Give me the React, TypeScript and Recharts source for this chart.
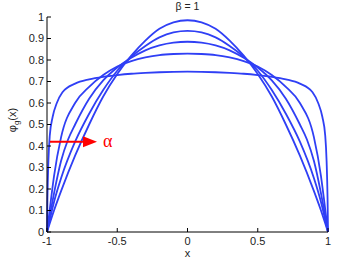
import React from 'react';
import { LineChart, Line, XAxis, YAxis, ReferenceLine, Customized } from 'recharts';

// tick values
const X_TICKS = [-1, -0.5, 0, 0.5, 1];
const Y_TICKS = [0, 0.1, 0.2, 0.3, 0.4, 0.5, 0.6, 0.7, 0.8, 0.9, 1];

// left half of each curve (x from -1 to 0); curves are symmetric about x = 0
const x1 = [-1, -0.95, -0.9, -0.8, -0.7, -0.6, -0.5, -0.4, -0.3, -0.2, -0.1, 0];
const y1 = [0, 0.1, 0.19, 0.355, 0.5, 0.63, 0.735, 0.82, 0.89, 0.945, 0.975, 0.985];

const x2 = [-1, -0.95, -0.9, -0.8, -0.7, -0.6, -0.5, -0.4, -0.3, -0.2, -0.1, 0];
const y2 = [0, 0.14, 0.25, 0.42, 0.55, 0.66, 0.75, 0.815, 0.865, 0.905, 0.928, 0.935];

const x3 = [-1, -0.95, -0.9, -0.85, -0.8, -0.7, -0.6, -0.5, -0.4, -0.3, -0.2, -0.1, 0];
const y3 = [0, 0.18, 0.33, 0.43, 0.5, 0.62, 0.705, 0.765, 0.81, 0.845, 0.868, 0.881, 0.885];

const x4 = [-1, -0.97, -0.95, -0.9, -0.8, -0.7, -0.6, -0.5, -0.4, -0.3, -0.2, -0.1, 0];
const y4 = [0, 0.16, 0.26, 0.44, 0.6, 0.675, 0.73, 0.77, 0.795, 0.812, 0.823, 0.828, 0.83];

const x5 = [-1, -0.997, -0.99, -0.98, -0.96, -0.93, -0.89, -0.8, -0.7, -0.6, -0.5, -0.4, -0.3, -0.2, -0.1, 0];
const y5 = [0, 0.15, 0.33, 0.45, 0.535, 0.6, 0.65, 0.69, 0.71, 0.722, 0.73, 0.736, 0.74, 0.743, 0.745, 0.746];

const mirror = (xs: number[], ys: number[]) => {
  const left = xs.map((x, i) => ({ x, y: ys[i] }));
  const right = xs
    .slice(0, -1)
    .map((x, i) => ({ x: -x, y: ys[i] }))
    .reverse();
  return [...left, ...right];
};

const curves = [mirror(x1, y1), mirror(x2, y2), mirror(x3, y3), mirror(x4, y4), mirror(x5, y5)];

const BLUE = '#2f3ff5';
const FONT = '"Liberation Sans", Arial, sans-serif';
const tickStyle = { fontSize: 11, fill: '#222', fontFamily: FONT };

const Arrow = (p: any) => {
  const { x1: ax, y1: ay, x2: bx } = p;
  return (
    <g>
      <line x1={ax} y1={ay} x2={bx - 12} y2={ay} stroke="#ff0000" strokeWidth={2} />
      <polygon points={`${bx},${ay} ${bx - 14},${ay - 5.5} ${bx - 14},${ay + 5.5}`} fill="#ff0000" />
      <text x={bx + 6} y={ay + 5} fill="#ff0000" fontSize={18} fontFamily='"Liberation Serif", serif'>
        α
      </text>
    </g>
  );
};

const Texts = () => (
  <g fontFamily={FONT} fill="#222">
    <text x={187.5} y={10} textAnchor="middle" fontSize={10.5}>
      β = 1
    </text>
    <text x={187.5} y={257} textAnchor="middle" fontSize={11}>
      x
    </text>
    <text x={16} y={120} textAnchor="middle" fontSize={11} transform="rotate(-90, 16, 120)">
      φ
      <tspan fontSize={8} dy={3}>g</tspan>
      <tspan dy={-3}>(x)</tspan>
    </text>
  </g>
);

export default function App() {
  return (
    <div style={{ position: 'absolute', left: 0, top: 0, background: '#fff' }}>
      <LineChart width={363} height={265} margin={{ top: 17, right: 35, bottom: 0, left: 0 }}>
        <XAxis
          dataKey="x"
          type="number"
          domain={[-1, 1]}
          ticks={X_TICKS}
          height={33}
          tickSize={-4}
          tickMargin={9}
          tick={tickStyle}
          stroke="#000"
          allowDuplicatedCategory={false}
        />
        <XAxis
          xAxisId="top"
          orientation="top"
          type="number"
          domain={[-1, 1]}
          ticks={X_TICKS}
          height={0}
          tickSize={-4}
          tickFormatter={() => ''}
          stroke="#000"
        />
        <YAxis
          type="number"
          domain={[0, 1]}
          ticks={Y_TICKS}
          width={47}
          tickSize={-4}
          tickMargin={7}
          tick={tickStyle}
          stroke="#000"
        />
        <YAxis
          yAxisId="right"
          orientation="right"
          type="number"
          domain={[0, 1]}
          ticks={Y_TICKS}
          width={0}
          tickSize={-4}
          tickFormatter={() => ''}
          stroke="#000"
        />
        {curves.map((d, i) => (
          <Line
            key={i}
            data={d}
            dataKey="y"
            type="monotone"
            stroke={BLUE}
            strokeWidth={1.8}
            dot={false}
            isAnimationActive={false}
          />
        ))}
        <ReferenceLine
          segment={[
            { x: -0.979, y: 0.42 },
            { x: -0.644, y: 0.42 },
          ]}
          shape={Arrow}
          ifOverflow="visible"
        />
        <Customized component={Texts} />
      </LineChart>
    </div>
  );
}
